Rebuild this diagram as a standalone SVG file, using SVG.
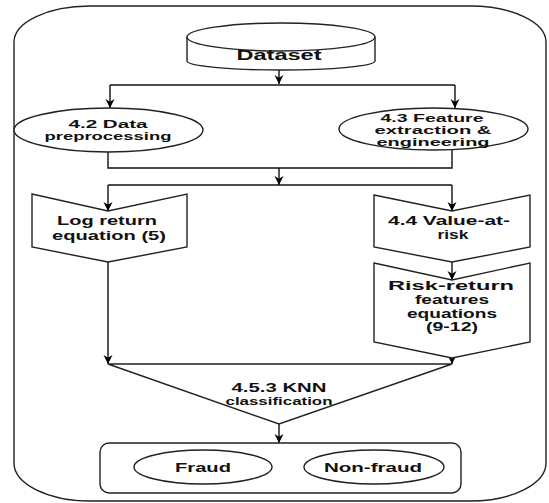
<svg xmlns="http://www.w3.org/2000/svg" width="549" height="503" viewBox="0 0 549 503">
<defs>
<marker id="arr" viewBox="0 0 10 10" refX="10" refY="5" markerWidth="9" markerHeight="11" markerUnits="userSpaceOnUse" orient="auto">
<path d="M0,0 L10,5 L0,10 L3,5 Z" fill="#000"/>
</marker>
</defs>
<style>
.sh{fill:#fff;stroke:#222;stroke-width:1.4}
.ln{fill:none;stroke:#111;stroke-width:1.4}
.t{font-family:"Liberation Sans",Arial,sans-serif;font-weight:bold;font-size:12px;fill:#111;text-anchor:middle}
.s{font-size:11px}
</style>
<rect width="549" height="503" fill="#fff"/>
<g id="frame">
<path class="sh" d="M90,6 H470 A76 36 0 0 1 546 42 V463 A76 38 0 0 1 470 501 H90 A76 38 0 0 1 14 463 V42 A76 36 0 0 1 90 6 Z"/>
</g>
<g id="connectors">
<path class="ln" d="M279,70 V84" marker-end="url(#arr)"/>
<path class="ln" d="M110,85 H455"/>
<path class="ln" d="M110,85 V108" marker-end="url(#arr)"/>
<path class="ln" d="M455,85 V108" marker-end="url(#arr)"/>
<path class="ln" d="M108,152 V168 H452 V150"/>
<path class="ln" d="M279,168 V185" marker-end="url(#arr)"/>
<path class="ln" d="M108,185 H452"/>
<path class="ln" d="M108,185 V211" marker-end="url(#arr)"/>
<path class="ln" d="M452,185 V211" marker-end="url(#arr)"/>
<path class="ln" d="M452,262 V280" marker-end="url(#arr)"/>
<path class="ln" d="M108,262 V364" marker-end="url(#arr)"/>
<path class="ln" d="M452,358 V364" marker-end="url(#arr)"/>
<path class="ln" d="M279,424 V443" marker-end="url(#arr)"/>
</g>
<g id="dataset">
<path class="sh" d="M187,37 V61 A94 9 0 0 0 375 61 V37"/>
<ellipse class="sh" cx="281" cy="37" rx="94" ry="14"/>
<text class="t" x="279" y="60" style="font-size:14px" textLength="85" lengthAdjust="spacingAndGlyphs">Dataset</text>
</g>
<g id="preprocessing">
<ellipse class="sh" cx="108.5" cy="130" rx="94.5" ry="22"/>
<text class="t s" x="108" y="128" textLength="79" lengthAdjust="spacingAndGlyphs">4.2 Data</text>
<text class="t s" x="108" y="140" textLength="127" lengthAdjust="spacingAndGlyphs">preprocessing</text>
</g>
<g id="feature">
<ellipse class="sh" cx="433.5" cy="129" rx="94.5" ry="21"/>
<text class="t s" x="432" y="122" textLength="103" lengthAdjust="spacingAndGlyphs">4.3 Feature</text>
<text class="t s" x="433" y="134" textLength="117" lengthAdjust="spacingAndGlyphs">extraction &amp;</text>
<text class="t s" x="433" y="146" textLength="113" lengthAdjust="spacingAndGlyphs">engineering</text>
</g>
<g id="logreturn">
<polygon class="sh" points="32,194 108,211 187,194 187,247 108,262 32,247"/>
<text class="t" x="107" y="225" style="font-size:13px" textLength="100" lengthAdjust="spacingAndGlyphs">Log return</text>
<text class="t" x="109" y="240" style="font-size:13px" textLength="114" lengthAdjust="spacingAndGlyphs">equation (5)</text>
</g>
<g id="var">
<polygon class="sh" points="374,195 452,211 530,195 530,247 452,262 374,247"/>
<text class="t" x="449" y="225" style="font-size:13px" textLength="122" lengthAdjust="spacingAndGlyphs">4.4 Value-at-</text>
<text class="t" x="453" y="239" style="font-size:13px" textLength="31" lengthAdjust="spacingAndGlyphs">risk</text>
</g>
<g id="riskreturn">
<polygon class="sh" points="374,263 452,280 530,263 530,342 452,358 374,342"/>
<text class="t" x="451" y="290" textLength="126" lengthAdjust="spacingAndGlyphs">Risk-return</text>
<text class="t" x="452" y="304" textLength="74" lengthAdjust="spacingAndGlyphs">features</text>
<text class="t" x="452" y="318" textLength="90" lengthAdjust="spacingAndGlyphs">equations</text>
<text class="t" x="452" y="331" textLength="52" lengthAdjust="spacingAndGlyphs">(9-12)</text>
</g>
<g id="knn">
<polygon class="sh" points="108,364 452,364 279,424"/>
<text class="t" x="279" y="392" style="font-size:13px" textLength="95" lengthAdjust="spacingAndGlyphs">4.5.3 KNN</text>
<text class="t" x="279" y="405" style="font-size:10.5px" textLength="107" lengthAdjust="spacingAndGlyphs">classification</text>
</g>
<g id="output">
<rect class="sh" x="100" y="443" width="361" height="50" rx="9"/>
<g id="fraud">
<ellipse class="sh" cx="203" cy="467" rx="69" ry="17"/>
<text class="t" x="203" y="472" style="font-size:13px" textLength="56" lengthAdjust="spacingAndGlyphs">Fraud</text>
</g>
<g id="nonfraud">
<ellipse class="sh" cx="374" cy="467" rx="70" ry="17"/>
<text class="t" x="373" y="472" style="font-size:13px" textLength="98" lengthAdjust="spacingAndGlyphs">Non-fraud</text>
</g>
</g>
</svg>
